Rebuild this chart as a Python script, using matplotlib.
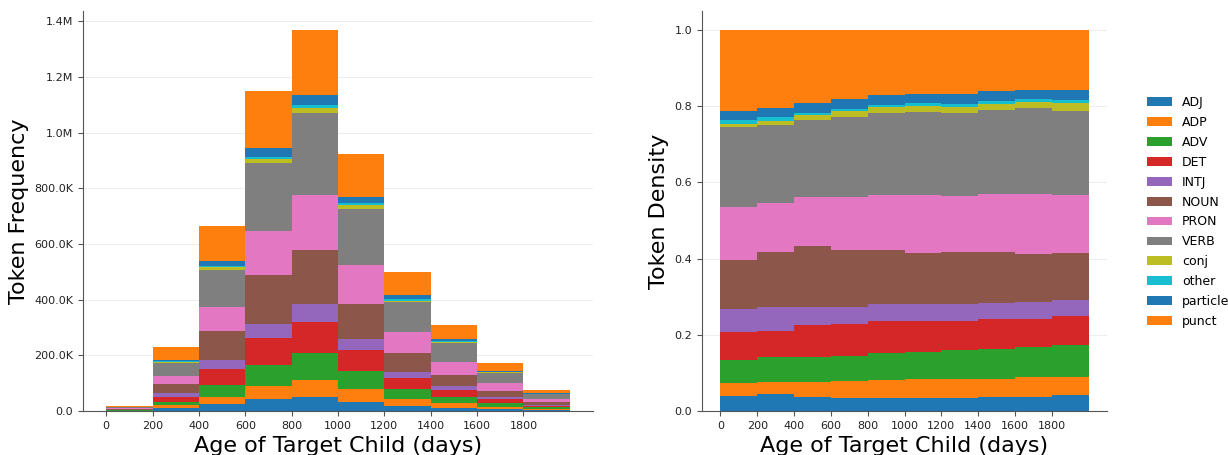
import numpy as np
import matplotlib
matplotlib.use("Agg")
import matplotlib.pyplot as plt
from matplotlib.ticker import FuncFormatter

# age bins (days)
bin_edges = [0, 200, 400, 600, 800, 1000, 1200, 1400, 1600, 1800, 2000]
pos_tags = ['ADJ', 'ADP', 'ADV', 'DET', 'INTJ', 'NOUN', 'PRON', 'VERB',
            'conj', 'other', 'particle', 'punct']

# token counts per bin, in thousands (left panel)
adj_k      = [0.8, 10, 26, 42, 49, 33, 19, 12, 7, 3.1]
adp_k      = [0.6, 10, 24, 49, 62, 45, 24, 16, 8, 3.8]
adv_k      = [1.2, 13, 43, 74, 96, 66, 36, 22, 15, 6.2]
det_k      = [1.3, 16, 58, 98, 114, 75, 41, 25, 14, 6.2]
intj_k     = [1.2, 14, 32, 50, 63, 40, 21, 16, 7, 3.0]
noun_k     = [2.4, 33, 105, 174, 194, 125, 67, 38, 21, 9.7]
pron_k     = [2.7, 31, 84, 159, 198, 140, 76, 46, 27, 11.5]
verb_k     = [4.1, 47, 134, 243, 295, 201, 107, 68, 37, 17.3]
conj_k     = [0.1, 2, 10, 16, 18, 15, 5, 5, 3, 1.2]
other_k    = [0.1, 4, 5, 8, 10, 7, 6, 4, 2, 0.4]
particle_k = [0.4, 4, 16, 32, 36, 21, 15, 8, 3, 2.6]
punct_k    = [4.1, 46, 127, 204, 233, 155, 81, 48, 27, 12]

# share of tokens per bin (right panel)
adj_d      = [.039, .044, .037, .035, .034, .034, .034, .037, .037, .041]
adp_d      = [.035, .032, .039, .043, .047, .049, .049, .048, .051, .048]
adv_d      = [.060, .066, .066, .067, .071, .072, .077, .078, .079, .084]
det_d      = [.073, .068, .085, .084, .083, .082, .077, .078, .075, .076]
intj_d     = [.062, .063, .047, .044, .045, .043, .045, .043, .045, .043]
noun_d     = [.127, .144, .160, .149, .142, .136, .135, .134, .125, .122]
pron_d     = [.139, .130, .128, .140, .145, .152, .148, .153, .159, .153]
verb_d     = [.211, .204, .203, .211, .216, .218, .218, .219, .225, .221]
conj_d     = [.007, .010, .012, .014, .014, .015, .015, .016, .015, .020]
other_d    = [.011, .010, .006, .007, .007, .007, .007, .008, .007, .008]
particle_d = [.023, .024, .025, .026, .026, .024, .027, .025, .025, .027]
punct_d    = [.213, .205, .192, .180, .170, .168, .168, .161, .157, .157]

counts = [adj_k, adp_k, adv_k, det_k, intj_k, noun_k, pron_k, verb_k,
          conj_k, other_k, particle_k, punct_k]
counts = [np.array(c) * 1000 for c in counts]
density = [adj_d, adp_d, adv_d, det_d, intj_d, noun_d, pron_d, verb_d,
           conj_d, other_d, particle_d, punct_d]

mids = [(a + b) / 2 for a, b in zip(bin_edges[:-1], bin_edges[1:])]
xs = [mids] * len(pos_tags)

fig = plt.figure(figsize=(12.28, 4.55), dpi=100)
ax1 = fig.add_axes([0.0676, 0.0967, 0.4153, 0.879])
ax2 = fig.add_axes([0.5717, 0.0967, 0.3298, 0.879])


def fmt_freq(v, pos):
    if v >= 1e6:
        return f"{v / 1e6:.1f}M"
    if v >= 1e3:
        return f"{v / 1e3:.1f}K"
    return f"{v:.1f}"


for ax, w, ylab in [(ax1, counts, 'Token Frequency'), (ax2, density, 'Token Density')]:
    ax.hist(xs, bins=bin_edges, weights=w, stacked=True, histtype='stepfilled',
            label=pos_tags, linewidth=0)
    ax.set_xticks(range(0, 2000, 200))
    ax.set_xlabel('Age of Target Child (days)', fontsize=16)
    ax.set_ylabel(ylab, fontsize=16)
    ax.grid(axis='y', color='#eeeeee', linewidth=0.8)
    ax.set_axisbelow(True)
    for s in ['top', 'right']:
        ax.spines[s].set_visible(False)
    for s in ['left', 'bottom']:
        ax.spines[s].set_color('#555555')
    ax.tick_params(labelsize=8, colors='#555555', labelcolor='#222222')
    ax.set_xlim(-100, 2100)

ax1.set_ylim(0, 1.4365e6)
ax1.set_yticks(np.arange(0, 1.5e6, 2e5))
ax1.yaxis.set_major_formatter(FuncFormatter(fmt_freq))
ax2.set_ylim(0, 1.05)
ax2.set_yticks(np.arange(0, 1.01, 0.2))

# hist puts the legend entries in reverse stacking order
handles, labels = ax2.get_legend_handles_labels()
fig.legend(handles[::-1], labels[::-1], loc='center left', bbox_to_anchor=(0.925, 0.534),
           frameon=False, fontsize=9, labelspacing=0.55)

fig.savefig('out.png', dpi=100)
